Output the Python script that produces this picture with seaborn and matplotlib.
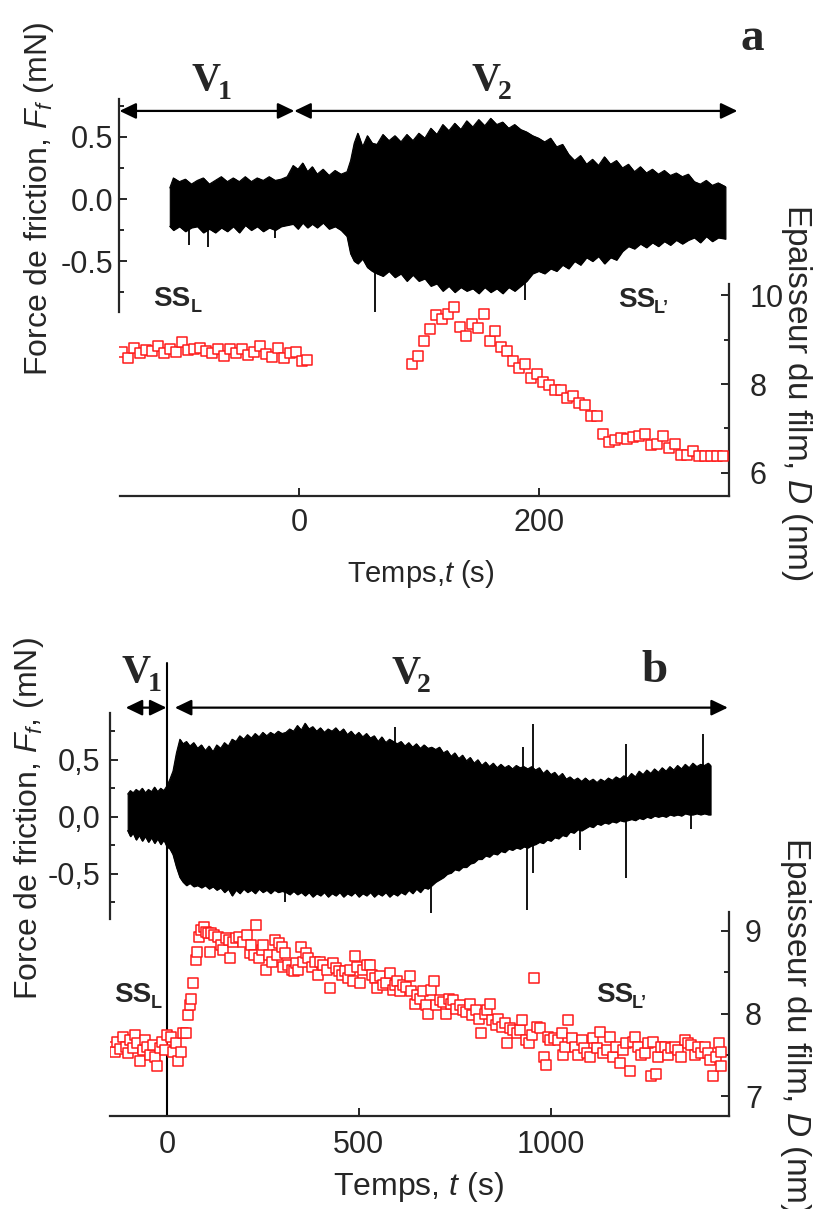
import matplotlib
matplotlib.use("Agg")
import matplotlib.pyplot as plt
from matplotlib.ticker import FixedLocator, FuncFormatter
import seaborn as sns

# ---------------- panel a : friction force envelope (mN) ----------------
a_env_t = [-108, -105, -100, -95, -90, -85, -80, -75, -70, -65, -60, -55, -50, -45, -40,
           -35, -30, -25, -20, -15, -10, -5, -1, 3, 7, 11, 15, 20, 25, 30, 35, 40, 43, 46,
           49, 53, 57, 61, 65, 70, 75, 80, 85, 90, 95, 100, 105, 110, 115, 120, 125, 130,
           135, 140, 145, 150, 155, 160, 165, 170, 175, 180, 185, 190, 195, 200, 205, 210,
           215, 220, 225, 230, 235, 240, 245, 250, 255, 260, 265, 270, 275, 280, 285, 290,
           295, 300, 305, 310, 315, 320, 325, 330, 335, 340, 345, 350, 356]
a_env_hi = [0.09, 0.17, 0.14, 0.16, 0.12, 0.15, 0.17, 0.12, 0.15, 0.18, 0.14, 0.17, 0.14, 0.18,
            0.14, 0.17, 0.15, 0.18, 0.15, 0.16, 0.18, 0.27, 0.24, 0.29, 0.22, 0.26, 0.20, 0.24,
            0.19, 0.23, 0.20, 0.22, 0.31, 0.45, 0.53, 0.42, 0.51, 0.45, 0.44, 0.52, 0.47, 0.51,
            0.46, 0.52, 0.47, 0.53, 0.49, 0.57, 0.52, 0.60, 0.55, 0.61, 0.56, 0.63, 0.58, 0.64,
            0.59, 0.65, 0.60, 0.62, 0.57, 0.60, 0.56, 0.54, 0.51, 0.49, 0.46, 0.49, 0.42, 0.44,
            0.36, 0.31, 0.35, 0.28, 0.32, 0.27, 0.34, 0.28, 0.31, 0.25, 0.28, 0.22, 0.26, 0.21,
            0.24, 0.20, 0.23, 0.19, 0.21, 0.18, 0.20, 0.14, 0.12, 0.15, 0.11, 0.13, 0.10]
a_env_lo = [-0.22, -0.25, -0.22, -0.26, -0.23, -0.22, -0.27, -0.24, -0.27, -0.23, -0.26, -0.22,
            -0.27, -0.21, -0.25, -0.22, -0.26, -0.23, -0.25, -0.22, -0.21, -0.20, -0.24, -0.19,
            -0.23, -0.20, -0.23, -0.19, -0.24, -0.22, -0.25, -0.30, -0.44, -0.50, -0.52, -0.48,
            -0.55, -0.58, -0.60, -0.62, -0.58, -0.63, -0.60, -0.66, -0.61, -0.66, -0.64, -0.70,
            -0.68, -0.74, -0.70, -0.75, -0.71, -0.74, -0.72, -0.76, -0.71, -0.75, -0.72, -0.76,
            -0.71, -0.74, -0.70, -0.66, -0.60, -0.58, -0.60, -0.56, -0.58, -0.53, -0.56, -0.50,
            -0.53, -0.47, -0.50, -0.46, -0.52, -0.47, -0.49, -0.42, -0.38, -0.40, -0.36, -0.39,
            -0.35, -0.38, -0.34, -0.37, -0.33, -0.36, -0.33, -0.31, -0.35, -0.30, -0.34, -0.31,
            -0.32]
a_spike_t = [-92, -76, -20, 63, 189]
a_spike_lo = [-0.37, -0.39, -0.31, -0.91, -0.81]
a_spike_hi = [0.0, 0.0, 0.0, 0.0, 0.0]

# ---------------- panel a : film thickness (nm) ----------------
a_d1_t = [-148, -143, -138, -133, -128, -123, -118, -113, -108, -103, -98, -93, -88, -83, -78,
          -73, -68, -63, -58, -53, -48, -43, -38, -33, -28, -23, -18, -13, -8, -3, 2, 7]
a_d1 = [8.73, 8.58, 8.80, 8.69, 8.76, 8.75, 8.85, 8.70, 8.78, 8.73, 8.94, 8.76, 8.78, 8.80,
        8.74, 8.70, 8.79, 8.63, 8.79, 8.70, 8.79, 8.65, 8.73, 8.85, 8.67, 8.61, 8.81, 8.58,
        8.69, 8.73, 8.52, 8.55]
a_d2_t = [94, 99, 104, 109, 114, 119, 124, 129, 134, 139, 144, 149, 154, 159, 164, 169, 174,
          179, 184, 189, 194, 199, 204, 209, 214, 219, 224, 229, 234, 239, 244, 249, 254, 259,
          264, 269, 274, 279, 284, 289, 294, 299, 304, 309, 314, 319, 324, 329, 334, 339, 344,
          349, 354]
a_d2 = [8.46, 8.63, 8.97, 9.23, 9.55, 9.46, 9.57, 9.74, 9.29, 9.08, 9.34, 9.27, 9.57, 8.97,
        9.20, 8.84, 8.75, 8.52, 8.37, 8.44, 8.14, 8.22, 8.05, 7.98, 7.87, 7.87, 7.68, 7.72,
        7.57, 7.53, 7.27, 7.28, 6.87, 6.70, 6.74, 6.79, 6.76, 6.80, 6.82, 6.88, 6.63, 6.65,
        6.82, 6.57, 6.64, 6.40, 6.40, 6.49, 6.39, 6.39, 6.39, 6.39, 6.39]

# ---------------- panel b : friction force envelope (mN) ----------------
b_env_t = [-102, -95, -88, -80, -72, -64, -56, -48, -40, -32, -24, -16, -8, 0, 8, 16, 25, 34,
           42, 51, 60, 70, 80, 90, 100, 110, 120, 130, 140, 150, 160, 170, 180, 190, 200, 210,
           220, 230, 240, 250, 260, 270, 280, 290, 300, 310, 320, 330, 340, 350, 360, 370, 380,
           390, 400, 410, 420, 430, 440, 450, 460, 470, 480, 490, 500, 510, 520, 530, 540, 550,
           560, 570, 580, 590, 600, 610, 620, 630, 640, 650, 660, 670, 680, 690, 700, 710, 720,
           730, 740, 750, 760, 770, 780, 790, 800, 810, 820, 830, 840, 850, 860, 870, 880, 890,
           900, 910, 920, 930, 940, 950, 960, 970, 980, 990, 1000, 1010, 1020, 1030, 1040, 1050,
           1060, 1070, 1080, 1090, 1100, 1110, 1120, 1130, 1140, 1150, 1160, 1170, 1180, 1190,
           1200, 1210, 1220, 1230, 1240, 1250, 1260, 1270, 1280, 1290, 1300, 1310, 1320, 1330,
           1340, 1350, 1360, 1370, 1380, 1390, 1400, 1410, 1416]
b_env_hi = [0.20, 0.23, 0.21, 0.24, 0.22, 0.25, 0.21, 0.24, 0.22, 0.26, 0.22, 0.25, 0.23, 0.27,
            0.33, 0.40, 0.56, 0.68, 0.64, 0.66, 0.62, 0.65, 0.60, 0.63, 0.58, 0.62, 0.57, 0.63,
            0.60, 0.65, 0.62, 0.68, 0.66, 0.71, 0.68, 0.72, 0.69, 0.73, 0.70, 0.74, 0.71, 0.74,
            0.72, 0.75, 0.73, 0.74, 0.77, 0.75, 0.80, 0.76, 0.82, 0.77, 0.79, 0.75, 0.78, 0.74,
            0.77, 0.75, 0.78, 0.74, 0.77, 0.72, 0.75, 0.71, 0.74, 0.70, 0.73, 0.69, 0.71, 0.66,
            0.70, 0.65, 0.68, 0.66, 0.64, 0.66, 0.62, 0.65, 0.61, 0.64, 0.60, 0.63, 0.60, 0.61,
            0.59, 0.61, 0.56, 0.58, 0.53, 0.56, 0.51, 0.54, 0.49, 0.52, 0.47, 0.50, 0.45, 0.48,
            0.44, 0.47, 0.43, 0.46, 0.43, 0.45, 0.42, 0.45, 0.43, 0.44, 0.42, 0.44, 0.41, 0.43,
            0.38, 0.41, 0.37, 0.39, 0.35, 0.38, 0.33, 0.35, 0.32, 0.34, 0.31, 0.34, 0.31, 0.33,
            0.30, 0.33, 0.31, 0.34, 0.32, 0.35, 0.33, 0.36, 0.34, 0.38, 0.35, 0.40, 0.37, 0.41,
            0.38, 0.42, 0.39, 0.43, 0.40, 0.44, 0.41, 0.45, 0.42, 0.46, 0.43, 0.47, 0.44, 0.46,
            0.45, 0.47, 0.45]
b_env_lo = [-0.12, -0.17, -0.14, -0.20, -0.16, -0.21, -0.17, -0.22, -0.18, -0.23, -0.19, -0.24,
            -0.20, -0.26, -0.28, -0.33, -0.44, -0.53, -0.57, -0.60, -0.58, -0.61, -0.60, -0.62,
            -0.60, -0.63, -0.61, -0.64, -0.62, -0.66, -0.63, -0.69, -0.64, -0.67, -0.63, -0.66,
            -0.64, -0.67, -0.63, -0.66, -0.64, -0.67, -0.64, -0.66, -0.65, -0.66, -0.68, -0.65,
            -0.68, -0.66, -0.69, -0.66, -0.70, -0.67, -0.69, -0.66, -0.70, -0.67, -0.69, -0.66,
            -0.70, -0.67, -0.69, -0.66, -0.70, -0.67, -0.69, -0.66, -0.70, -0.67, -0.69, -0.66,
            -0.70, -0.67, -0.69, -0.66, -0.68, -0.64, -0.67, -0.63, -0.66, -0.62, -0.63, -0.60,
            -0.57, -0.55, -0.53, -0.50, -0.49, -0.46, -0.47, -0.44, -0.44, -0.41, -0.40, -0.37,
            -0.37, -0.34, -0.35, -0.32, -0.33, -0.30, -0.31, -0.28, -0.29, -0.27, -0.28, -0.26,
            -0.27, -0.25, -0.24, -0.22, -0.23, -0.20, -0.21, -0.18, -0.19, -0.16, -0.17, -0.13,
            -0.14, -0.11, -0.12, -0.10, -0.08, -0.09, -0.06, -0.07, -0.05, -0.06, -0.04, -0.05,
            -0.03, -0.04, -0.03, -0.02, -0.03, -0.01, -0.02, 0.00, -0.01, 0.01, 0.00, 0.01,
            0.00, 0.02, 0.01, 0.02, 0.01, 0.03, 0.02, 0.02, 0.03, 0.02, 0.03, 0.02, 0.02]
b_spike_t = [307, 595, 689, 928, 937, 954, 1076, 1195, 1366, 1395]
b_spike_lo = [-0.75, 0.0, -0.84, 0.0, -0.82, -0.49, -0.29, -0.54, -0.11, 0.20]
b_spike_hi = [0.0, 0.79, 0.0, 0.61, 0.0, 0.81, 0.0, 0.64, 0.20, 0.73]

# ---------------- panel b : film thickness (nm) ----------------
b_d_t = [-144, -135, -129, -121, -115, -107, -101, -95, -88, -83, -77, -70, -63, -57, -51, -44,
         -37, -31, -25, -18, -12, -5, 1, 10, 16, 23, 30, 36, 41, 51, 56, 60, 64, 69, 76, 79, 84,
         90, 96, 102, 108, 112, 116, 123, 134, 140, 145, 154, 162, 164, 173, 181, 188, 199,
         209, 216, 220, 227, 233, 240, 247, 251, 258, 266, 273, 281, 286, 292, 299, 303, 309,
         316, 325, 331, 336, 342, 349, 355, 362, 368, 377, 385, 394, 400, 407, 416, 424, 433,
         440, 449, 455, 464, 472, 478, 485, 490, 496, 503, 511, 520, 529, 533, 542, 548, 555,
         563, 572, 581, 588, 594, 600, 607, 616, 622, 633, 637, 646, 652, 659, 668, 675, 681,
         689, 696, 702, 711, 718, 727, 735, 741, 746, 754, 763, 770, 780, 789, 796, 805, 813,
         819, 828, 834, 841, 848, 857, 863, 872, 880, 886, 893, 902, 911, 919, 926, 935, 944,
         950, 956, 963, 971, 982, 987, 993, 999, 1008, 1019, 1028, 1032, 1038, 1045, 1054, 1063,
         1071, 1080, 1086, 1095, 1102, 1110, 1119, 1128, 1136, 1145, 1154, 1162, 1171, 1180,
         1188, 1197, 1206, 1213, 1219, 1227, 1236, 1245, 1253, 1260, 1267, 1273, 1280, 1288,
         1297, 1306, 1314, 1323, 1332, 1340, 1349, 1358, 1366, 1375, 1384, 1392, 1401, 1410,
         1414, 1423, 1430, 1438, 1442, 1444]
b_d = [7.60, 7.54, 7.66, 7.57, 7.72, 7.60, 7.52, 7.68, 7.58, 7.74, 7.64, 7.42, 7.56, 7.68, 7.60,
       7.50, 7.62, 7.48, 7.36, 7.58, 7.66, 7.56, 7.74, 7.72, 7.54, 7.64, 7.42, 7.54, 7.76, 7.76,
       7.98, 8.10, 8.18, 8.37, 8.65, 8.74, 8.93, 9.01, 9.05, 8.99, 8.97, 8.75, 8.97, 8.95, 8.93,
       8.83, 8.77, 8.91, 8.89, 8.67, 8.87, 8.92, 8.93, 8.87, 8.95, 8.73, 8.83, 8.71, 9.07, 8.67,
       8.77, 8.83, 8.53, 8.71, 8.63, 8.89, 8.71, 8.85, 8.81, 8.57, 8.73, 8.59, 8.53, 8.51, 8.61,
       8.53, 8.81, 8.63, 8.73, 8.67, 8.57, 8.63, 8.47, 8.63, 8.59, 8.53, 8.31, 8.61, 8.55, 8.51,
       8.47, 8.51, 8.43, 8.53, 8.39, 8.70, 8.57, 8.37, 8.53, 8.59, 8.59, 8.47, 8.43, 8.31, 8.45,
       8.35, 8.37, 8.49, 8.29, 8.35, 8.39, 8.27, 8.35, 8.32, 8.45, 8.27, 8.12, 8.22, 8.18, 8.27,
       8.10, 8.00, 8.29, 8.39, 8.10, 8.16, 8.14, 8.00, 8.18, 8.12, 8.16, 8.06, 8.10, 8.04, 8.02,
       8.12, 7.98, 8.04, 7.94, 7.76, 8.00, 8.04, 8.12, 7.92, 7.86, 7.94, 7.84, 7.88, 7.64, 7.82,
       7.80, 7.76, 7.80, 7.92, 7.68, 7.64, 7.74, 8.43, 7.84, 7.82, 7.48, 7.38, 7.72, 7.68, 7.70,
       7.68, 7.76, 7.50, 7.60, 7.92, 7.70, 7.60, 7.50, 7.68, 7.58, 7.52, 7.48, 7.70, 7.58, 7.78,
       7.52, 7.56, 7.72, 7.48, 7.60, 7.40, 7.56, 7.64, 7.30, 7.66, 7.72, 7.60, 7.50, 7.52, 7.64,
       7.25, 7.66, 7.27, 7.48, 7.60, 7.60, 7.50, 7.58, 7.60, 7.56, 7.48, 7.68, 7.64, 7.62, 7.50,
       7.60, 7.52, 7.60, 7.52, 7.44, 7.25, 7.48, 7.64, 7.54, 7.36]

# ---------------- figure ----------------
sns.set_style("ticks")
plt.rcParams["font.family"] = ["Liberation Sans", "DejaVu Sans"]
plt.rcParams["mathtext.fontset"] = "custom"
plt.rcParams["mathtext.rm"] = "Liberation Sans"
plt.rcParams["mathtext.it"] = "Liberation Sans:italic"
plt.rcParams["mathtext.bf"] = "Liberation Sans:bold"
plt.rcParams["axes.unicode_minus"] = False

W, H = 825, 1209
fig = plt.figure(figsize=(W / 100, H / 100), dpi=100)
RED = "#ff1a1a"
SERIF = ["Liberation Serif", "DejaVu Serif"]


def px_box(x0, x1, ytop, ybot):
    return [x0 / W, 1 - ybot / H, (x1 - x0) / W, (ybot - ytop) / H]


def ftext(x, y, s, **kw):
    return fig.text(x / W, 1 - y / H, s, **kw)


def friction_axes(pos, xlim, ylim, fmt, pad):
    ax = fig.add_axes(pos)
    ax.set_facecolor("none")
    ax.set_xlim(xlim)
    ax.set_ylim(ylim)
    for s in ["top", "right", "bottom"]:
        ax.spines[s].set_visible(False)
    ax.spines["left"].set_linewidth(1.6)
    ax.set_xticks([])
    ax.yaxis.set_major_locator(FixedLocator([-0.5, 0.0, 0.5]))
    ax.yaxis.set_minor_locator(FixedLocator([-0.75, -0.25, 0.25, 0.75]))
    ax.yaxis.set_major_formatter(FuncFormatter(fmt))
    ax.tick_params(axis="y", which="major", direction="in", length=5.5, width=1.4,
                   labelsize=22, pad=pad)
    ax.tick_params(axis="y", which="minor", direction="in", length=3.5, width=1.4)
    return ax


def thick_axes(pos, xlim, ylim, xticks, yticks, yminor, ypad, xpad):
    ax = fig.add_axes(pos)
    ax.set_facecolor("none")
    ax.set_xlim(xlim)
    ax.set_ylim(ylim)
    ax.spines["top"].set_visible(False)
    ax.spines["left"].set_visible(False)
    ax.spines["right"].set_linewidth(1.6)
    ax.spines["bottom"].set_linewidth(1.6)
    ax.yaxis.tick_right()
    ax.set_xticks(xticks)
    ax.set_yticks(yticks)
    ax.yaxis.set_minor_locator(FixedLocator(yminor))
    ax.tick_params(axis="y", which="major", direction="in", length=5.5, width=1.4,
                   labelsize=22, pad=ypad, left=False, right=True)
    ax.tick_params(axis="y", which="minor", direction="in", length=3.5, width=1.4,
                   left=False, right=True)
    ax.tick_params(axis="x", which="major", direction="in", length=6, width=1.4,
                   labelsize=22, pad=xpad)
    return ax


def span_arrow(ax, t0, t1, yfrac):
    tr = ax.get_xaxis_transform()
    ax.annotate("", xy=(t1, yfrac), xytext=(t0, yfrac), xycoords=tr, textcoords=tr,
                annotation_clip=False,
                arrowprops=dict(arrowstyle="<|-|>,head_length=0.5,head_width=0.24",
                                color="black", lw=1.6, shrinkA=0, shrinkB=0,
                                mutation_scale=20))


def draw_friction(ax, t, hi, lo, st, slo, shi):
    ax.fill_between(t, lo, hi, color="black", lw=0.8)
    sns.lineplot(x=t, y=hi, ax=ax, color="black", lw=0.8, sort=False)
    sns.lineplot(x=t, y=lo, ax=ax, color="black", lw=0.8, sort=False)
    ax.vlines(st, slo, shi, color="black", lw=1.3)
    ax.set_xlabel("")
    ax.set_ylabel("")


def draw_thick(ax, t, d):
    sns.scatterplot(x=t, y=d, ax=ax, marker="s", s=46, color="white", edgecolor=RED,
                    linewidth=1.1, zorder=3)
    ax.set_xlabel("")
    ax.set_ylabel("")


# ---------- panel a ----------
xlim_a = (-150, 359)
fa = friction_axes(px_box(119.5, 729, 99, 312), xlim_a, (-0.91, 0.806),
                   lambda v, p: f"{v:.1f}", pad=4.5)
da = thick_axes(px_box(119.5, 729, 284, 496), xlim_a, (5.48, 10.25), [0, 200],
                [6, 8, 10], [7, 9], ypad=15, xpad=8.5)
draw_friction(fa, a_env_t, a_env_hi, a_env_lo, a_spike_t, a_spike_lo, a_spike_hi)
draw_thick(da, a_d1_t, a_d1)
draw_thick(da, a_d2_t, a_d2)
span_arrow(fa, -150, -4, 0.944)
span_arrow(fa, -4, 366, 0.944)

# ---------- panel b ----------
xlim_b = (-148, 1464)
fb = friction_axes(px_box(110, 729, 713, 919), xlim_b, (-0.895, 0.91),
                   lambda v, p: f"{v:.1f}".replace(".", ","), pad=7)
db = thick_axes(px_box(110, 729, 912, 1116), xlim_b, (6.76, 9.23), [0, 500, 1000],
                [7, 8, 9], [7.5, 8.5], ypad=11.5, xpad=10)
draw_friction(fb, b_env_t, b_env_hi, b_env_lo, b_spike_t, b_spike_lo, b_spike_hi)
draw_thick(db, b_d_t, b_d)
db.axvline(0, ymin=0, ymax=(1116 - 663) / 204, color="black", lw=1.5, clip_on=False)
span_arrow(fb, -107, -1, 1.026)
span_arrow(fb, 21, 1461, 1.026)

# ---------- text ----------
vkw = dict(family=SERIF, weight="bold", ha="left", va="baseline")
ftext(192, 90, "V", fontsize=29, **vkw)
ftext(218, 99, "1", fontsize=20, **vkw)
ftext(472, 90, "V", fontsize=29, **vkw)
ftext(498, 99, "2", fontsize=20, **vkw)
ftext(122, 682, "V", fontsize=29, **vkw)
ftext(148, 691, "1", fontsize=20, **vkw)
ftext(392, 683, "V", fontsize=29, **vkw)
ftext(417, 692, "2", fontsize=20, **vkw)
ftext(741, 50, "a", fontsize=34, **vkw)
ftext(641, 682, "b", fontsize=34, **vkw)

skw = dict(weight="bold", ha="left", va="baseline")
ftext(153, 306, "SS", fontsize=20, **skw)
ftext(191, 312, "L", fontsize=13, **skw)
ftext(618, 307, "SS", fontsize=20, **skw)
ftext(654, 313, "L\u2019", fontsize=13, **skw)
ftext(114, 1002, "SS", fontsize=20, **skw)
ftext(151, 1008, "L", fontsize=13, **skw)
ftext(596, 1002, "SS", fontsize=20, **skw)
ftext(632, 1008, "L\u2019", fontsize=13, **skw)

lkw = dict(ha="center", va="baseline", rotation_mode="anchor")
ftext(47, 199, r"Force de friction, $F_f$ (mN)", fontsize=23, rotation=90, **lkw)
ftext(37, 819, r"Force de friction, $F_f$, (mN)", fontsize=23, rotation=90, **lkw)
ftext(788, 392, r"Epaisseur du film, $D$ (nm)", fontsize=24, rotation=-90, **lkw)
ftext(787, 1025, r"Epaisseur du film, $D$ (nm)", fontsize=24, rotation=-90, **lkw)
ftext(421, 582, r"Temps,$t$ (s)", fontsize=21, ha="center", va="baseline")
ftext(418, 1195, r"Temps, $t$ (s)", fontsize=23, ha="center", va="baseline")

fig.savefig("out.png", dpi=100)
